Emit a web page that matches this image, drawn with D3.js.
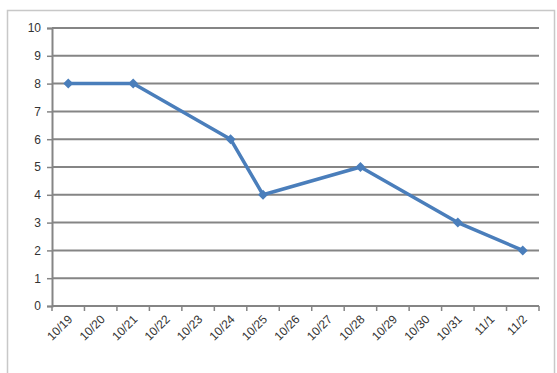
<!DOCTYPE html>
<html>
<head>
<meta charset="utf-8">
<script src="https://cdn.jsdelivr.net/npm/d3@7"></script>
<style>
  body { margin: 0; background: #fff; }
  text { font-family: "Liberation Sans", Arial, sans-serif; fill: #333; }
</style>
</head>
<body>
<div id="chart"></div>
<script>
// categories along the x axis
var dates = ["10/19", "10/20", "10/21", "10/22", "10/23", "10/24", "10/25", "10/26",
             "10/27", "10/28", "10/29", "10/30", "10/31", "11/1", "11/2"];
// only some days have a value
var pointDates = ["10/19", "10/21", "10/24", "10/25", "10/28", "10/31", "11/2"];
var pointValues = [8, 8, 6, 4, 5, 3, 2];
var yTicks = [0, 1, 2, 3, 4, 5, 6, 7, 8, 9, 10];

var svgWidth = 557, svgHeight = 373;
var margin = { top: 28, right: 18, bottom: 67, left: 52 };
var width = svgWidth - margin.left - margin.right;
var height = svgHeight - margin.top - margin.bottom;

var svg = d3.select("#chart")
    .append("svg")
    .attr("width", svgWidth)
    .attr("height", svgHeight);

// outer chart border
svg.append("rect")
    .attr("x", 7.5).attr("y", 10.5)
    .attr("width", 547).attr("height", 380)
    .attr("fill", "none")
    .attr("stroke", "#c8c8c8")
    .attr("stroke-width", 1.5);

var chartGroup = svg.append("g")
    .attr("transform", `translate(${margin.left}, ${margin.top})`);

var xScale = d3.scaleBand()
    .domain(dates)
    .range([0, width]);

var yScale = d3.scaleLinear()
    .domain([0, 10])
    .range([height, 0]);

// gridlines
chartGroup.append("g")
    .selectAll("line")
    .data(yTicks.filter(d => d > 0))
    .enter()
    .append("line")
    .attr("x1", 0)
    .attr("x2", width)
    .attr("y1", d => yScale(d))
    .attr("y2", d => yScale(d))
    .attr("stroke", "#858585")
    .attr("stroke-width", 2);

// y axis
var leftAxis = d3.axisLeft(yScale).tickValues(yTicks).tickSize(5).tickPadding(6);
var yAxis = chartGroup.append("g").call(leftAxis);
yAxis.select(".domain").attr("stroke", "#858585").attr("stroke-width", 2);
yAxis.selectAll(".tick line").attr("stroke", "#858585").attr("stroke-width", 1.5);
yAxis.selectAll("text").attr("font-size", 12).attr("fill", "#333");

// x axis with ticks on band boundaries
var xAxis = chartGroup.append("g")
    .attr("transform", `translate(0, ${height})`);
xAxis.append("line")
    .attr("x1", 0).attr("x2", width)
    .attr("stroke", "#858585").attr("stroke-width", 2);
xAxis.selectAll(".xtick")
    .data(dates.concat(["end"]))
    .enter()
    .append("line")
    .attr("class", "xtick")
    .attr("x1", (d, i) => i * xScale.step())
    .attr("x2", (d, i) => i * xScale.step())
    .attr("y1", 0).attr("y2", 5)
    .attr("stroke", "#858585").attr("stroke-width", 1.5);

xAxis.selectAll(".xlabel")
    .data(dates)
    .enter()
    .append("text")
    .attr("class", "xlabel")
    .attr("transform", d => `translate(${xScale(d) + xScale.bandwidth() / 2 + 5}, 14) rotate(-45)`)
    .attr("text-anchor", "end")
    .attr("font-size", 12)
    .attr("fill", "#333")
    .text(d => d);

// line through the points
var points = pointDates.map((d, i) => ({ date: d, value: pointValues[i] }));
var line = d3.line()
    .x(d => xScale(d.date) + xScale.bandwidth() / 2)
    .y(d => yScale(d.value));

chartGroup.append("path")
    .datum(points)
    .attr("d", line)
    .attr("fill", "none")
    .attr("stroke", "#4a7ebb")
    .attr("stroke-width", 3.5)
    .attr("stroke-linejoin", "round");

// diamond markers (square turned 45 degrees)
chartGroup.append("g")
    .selectAll("path")
    .data(points)
    .enter()
    .append("path")
    .attr("d", d3.symbol().type(d3.symbolSquare).size(50))
    .attr("transform", d => `translate(${xScale(d.date) + xScale.bandwidth() / 2}, ${yScale(d.value)}) rotate(45)`)
    .attr("fill", "#4a7ebb");
</script>
</body>
</html>
